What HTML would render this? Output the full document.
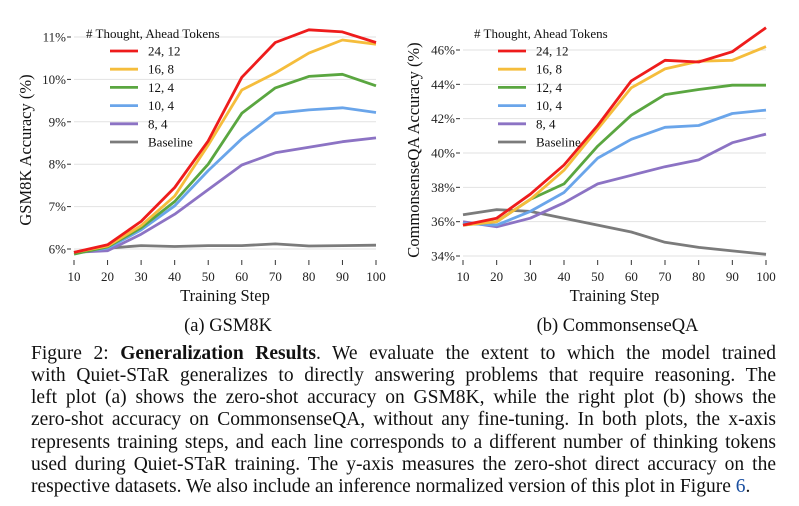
<!DOCTYPE html>
<html><head><meta charset="utf-8">
<style>
body{margin:0;background:#fff;width:799px;height:506px;overflow:hidden;font-family:"Liberation Serif",serif;}
svg{position:absolute;left:0;top:0}
.cap{position:absolute;left:31px;width:745px;font-size:19.5px;line-height:22.2px;text-align:justify;text-align-last:justify;white-space:nowrap;color:#111}
.cap.last{text-align-last:left}
</style></head>
<body>
<svg id="chart" width="799" height="506"></svg>
<div class="cap" style="top:343px">Figure 2: <b>Generalization Results</b>. We evaluate the extent to which the model trained</div>
<div class="cap" style="top:365px">with Quiet-STaR generalizes to directly answering problems that require reasoning. The</div>
<div class="cap" style="top:387px">left plot (a) shows the zero-shot accuracy on GSM8K, while the right plot (b) shows the</div>
<div class="cap" style="top:409px">zero-shot accuracy on CommonsenseQA, without any fine-tuning. In both plots, the x-axis</div>
<div class="cap" style="top:432px">represents training steps, and each line corresponds to a different number of thinking tokens</div>
<div class="cap" style="top:454px">used during Quiet-STaR training. The y-axis measures the zero-shot direct accuracy on the</div>
<div class="cap last" style="top:476px">respective datasets. We also include an inference normalized version of this plot in Figure <span style="color:#1a4fa0">6</span>.</div>
<script>
const steps=[10,20,30,40,50,60,70,80,90,100];
const seriesNames=["24, 12","16, 8","12, 4","10, 4","8, 4","Baseline"];
const colors=["#ee1c1c","#f5bd3c","#5aa640","#6aa5ea","#8c73c4","#7b7b7b"];
const gsmRed=[5.92,6.1,6.65,7.45,8.55,10.05,10.87,11.17,11.12,10.87];
const gsmYellow=[5.92,6.07,6.55,7.25,8.45,9.75,10.15,10.62,10.93,10.83];
const gsmGreen=[5.88,6.05,6.5,7.12,8.0,9.2,9.8,10.07,10.12,9.85];
const gsmBlue=[5.92,6.02,6.45,7.02,7.85,8.6,9.2,9.28,9.33,9.22];
const gsmPurple=[5.92,5.96,6.35,6.82,7.4,7.98,8.27,8.4,8.53,8.62];
const gsmBase=[5.92,6.02,6.08,6.06,6.08,6.08,6.12,6.07,6.08,6.09];
const gsmTicks=[6,7,8,9,10,11];
const csRed=[35.8,36.2,37.6,39.3,41.6,44.2,45.4,45.3,45.9,47.3];
const csYellow=[35.8,36.0,37.3,39.0,41.4,43.8,44.9,45.35,45.4,46.2];
const csGreen=[35.8,36.0,37.3,38.2,40.4,42.2,43.4,43.7,43.95,43.95];
const csBlue=[35.9,35.8,36.6,37.7,39.7,40.8,41.5,41.6,42.3,42.5];
const csPurple=[36.0,35.7,36.2,37.1,38.2,38.7,39.2,39.6,40.6,41.1];
const csBase=[36.4,36.7,36.6,36.2,35.8,35.4,34.8,34.5,34.3,34.1];
const csTicks=[34,36,38,40,42,44,46];

const svg=document.getElementById('chart');
const NS='http://www.w3.org/2000/svg';
function mk(tag,attrs,parent){const e=document.createElementNS(NS,tag);for(const k in attrs)e.setAttribute(k,attrs[k]);(parent||svg).appendChild(e);return e;}

function drawChart(cfg){
  const g=mk('g',{});
  
  
  const xs=v=>cfg.x0+(v-10)/90*(cfg.x1-cfg.x0);
  const ys=v=>cfg.yA+(v-cfg.vA)/(cfg.vB-cfg.vA)*(cfg.yB-cfg.yA);
  cfg.ticks.forEach(t=>{
    const l=mk('line',{x1:cfg.x0,x2:cfg.x1,y1:ys(t),y2:ys(t),stroke:'#e2e2e2','stroke-width':1},g);
    
    
    mk('line',{x1:cfg.x0-7,x2:cfg.x0-3,y1:ys(t),y2:ys(t),stroke:'#333','stroke-width':1},g);
    const tx=mk('text',{x:cfg.x0-8,y:ys(t)+4.5,'text-anchor':'end','font-size':13,fill:'#222'},g);
    tx.textContent=t+'%';
    
    
  });
  steps.forEach(s=>{
    mk('line',{x1:xs(s),x2:xs(s),y1:260,y2:265,stroke:'#333','stroke-width':1},g);
    const tx=mk('text',{x:xs(s),y:281,'text-anchor':'middle','font-size':13,fill:'#222'},g);
    tx.textContent=s;
    
    
  });
  const xt=mk('text',{x:(cfg.x0+cfg.x1)/2,y:301,'text-anchor':'middle','font-size':16.5,fill:'#111'},g);
  xt.textContent='Training Step';
  
  
  const yt=mk('text',{x:0,y:0,'text-anchor':'middle','font-size':16.5,fill:'#111',transform:`translate(${cfg.yl},150) rotate(-90)`},g);
  yt.textContent=cfg.ylabel;
  
  
  for(let i=cfg.series.length-1;i>=0;i--){
    const d=cfg.series[i].map((v,j)=>(j?'L':'M')+xs(steps[j]).toFixed(1)+','+ys(v).toFixed(1)).join(' ');
    const p=mk('path',{d:d,fill:'none',stroke:colors[i],'stroke-width':2.8,'stroke-linejoin':'round'},g);
    
    
  }
  const lg=mk('g',{},g);
  
  
  const lt=mk('text',{x:cfg.lx,y:38,'font-size':13,fill:'#111'},lg);
  lt.textContent='# Thought, Ahead Tokens';
  
  
  seriesNames.forEach((n,i)=>{
    const y=51+i*18.2;
    const ln=mk('line',{x1:cfg.lx+24,x2:cfg.lx+52,y1:y,y2:y,stroke:colors[i],'stroke-width':2.8},lg);
    
    
    const t=mk('text',{x:cfg.lx+62,y:y+4.5,'font-size':13,fill:'#111'},lg);
    t.textContent=n;
    
    
  });
  const sc=mk('text',{x:(cfg.x0+cfg.x1)/2+3,y:331,'text-anchor':'middle','font-size':18.5,fill:'#111'},g);
  sc.textContent=cfg.sub;
  
  
}
drawChart({name:'gsm8k-chart',x0:74,x1:376,yA:249,vA:6,yB:37,vB:11,ticks:gsmTicks,
  series:[gsmRed,gsmYellow,gsmGreen,gsmBlue,gsmPurple,gsmBase],ylabel:'GSM8K Accuracy (%)',yl:31,lx:86,sub:'(a) GSM8K'});
drawChart({name:'commonsenseqa-chart',x0:463,x1:766,yA:256,vA:34,yB:50,vB:46,ticks:csTicks,
  series:[csRed,csYellow,csGreen,csBlue,csPurple,csBase],ylabel:'CommonsenseQA Accuracy (%)',yl:419,lx:474,sub:'(b) CommonsenseQA'});
</script>
</body></html>
